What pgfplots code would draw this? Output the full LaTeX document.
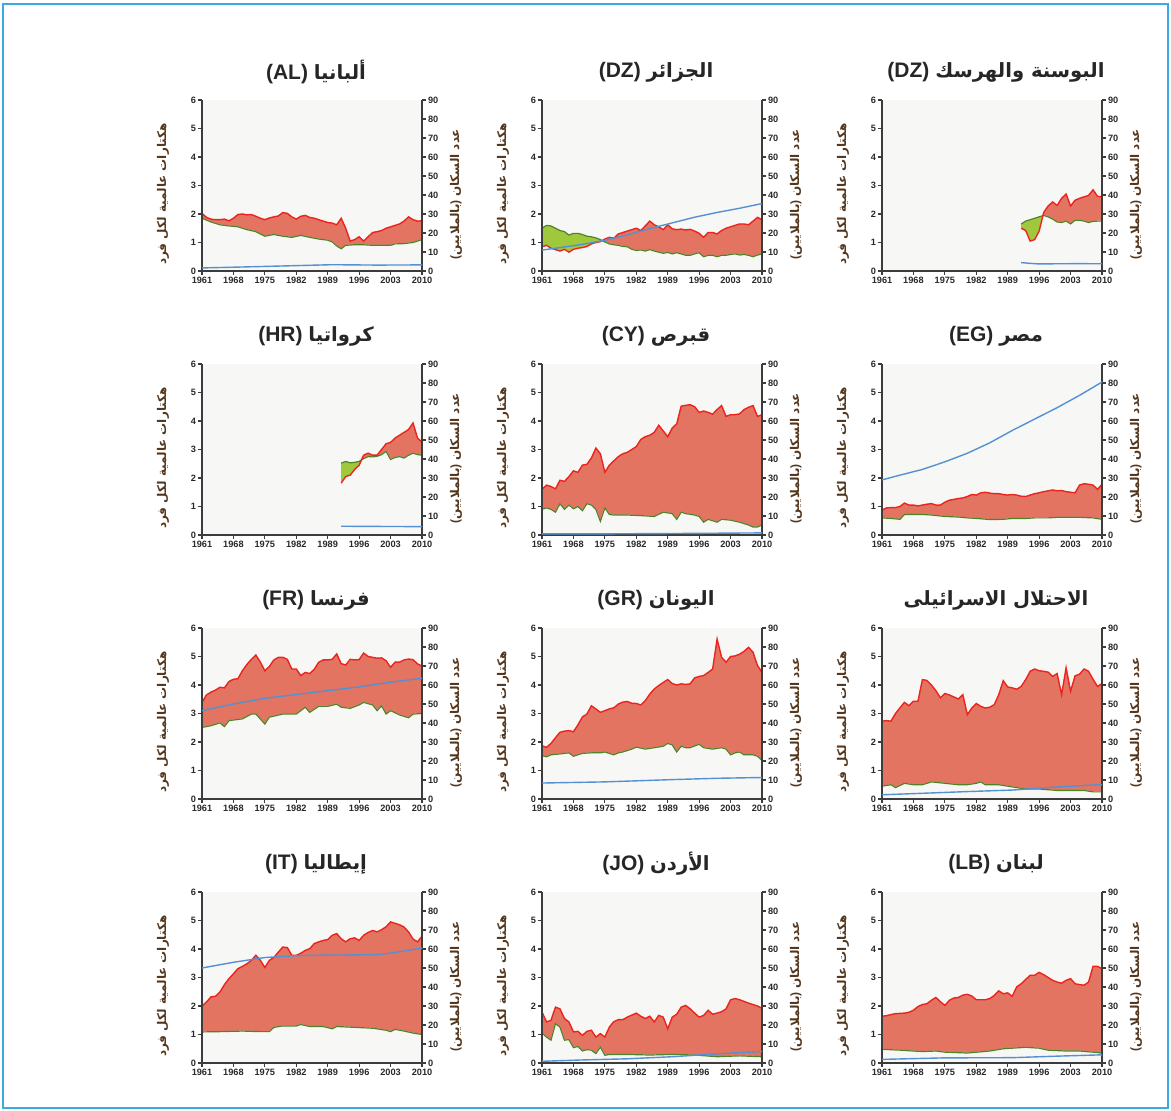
\documentclass[border=0pt]{standalone}
\usepackage{fontspec}
\setmainfont{Liberation Sans}
\newfontfamily\arabicfont[Script=Arabic]{DejaVu Sans}
\TeXXeTstate=1
\usepackage{pgfplots}
\pgfplotsset{compat=1.18}
\usepackage{pgfplotstable}

\definecolor{plotbg}{RGB}{247,247,245}
\definecolor{redfillc}{RGB}{226,116,97}
\definecolor{redlinec}{RGB}{236,36,30}
\definecolor{greenfillc}{RGB}{160,200,60}
\definecolor{greenlinec}{RGB}{80,130,40}
\definecolor{popc}{RGB}{85,145,210}
\definecolor{axiscol}{RGB}{60,60,60}
\definecolor{tickcol}{RGB}{40,40,40}
\definecolor{labcol}{RGB}{85,55,30}
\definecolor{framecol}{RGB}{60,170,225}

% ---------------- data ----------------
\pgfplotstableread[header=false]{
1961 2.02
1962 1.88
1963 1.82
1964 1.80
1965 1.80
1966 1.82
1967 1.76
1968 1.85
1969 1.98
1970 2.00
1971 1.97
1972 1.98
1973 1.92
1974 1.85
1975 1.80
1976 1.86
1977 1.90
1978 1.93
1979 2.05
1980 2.02
1981 1.90
1982 1.82
1983 1.92
1984 1.95
1985 1.88
1986 1.85
1987 1.80
1988 1.75
1989 1.70
1990 1.68
1991 1.62
1992 1.85
1993 1.50
1994 1.05
1995 1.10
1996 1.20
1997 1.05
1998 1.20
1999 1.35
2000 1.38
2001 1.42
2002 1.50
2003 1.55
2004 1.60
2005 1.65
2006 1.75
2007 1.90
2008 1.80
2009 1.75
2010 1.76
}\ALef
\pgfplotstableread[header=false]{
1961 1.85
1963 1.72
1965 1.62
1967 1.58
1969 1.55
1971 1.45
1973 1.38
1975 1.22
1977 1.28
1979 1.22
1981 1.18
1983 1.25
1985 1.18
1987 1.12
1989 1.08
1990 1.02
1991 0.88
1992 0.78
1993 0.90
1995 0.92
1997 0.92
1999 0.90
2001 0.90
2003 0.90
2004 0.95
2006 0.96
2008 1.00
2010 1.10
}\ALbc
\pgfplotstableread[header=false]{
1961 1.6
1970 2.1
1980 2.7
1990 3.3
2000 3.1
2010 3.2
}\ALpop

\pgfplotstableread[header=false]{
1961 0.85
1962 0.90
1963 0.80
1964 0.75
1965 0.70
1966 0.76
1967 0.66
1968 0.76
1969 0.80
1970 0.82
1971 0.86
1972 0.95
1973 1.00
1974 1.03
1974.41 1.067
1975 1.12
1976 1.18
1977 1.15
1978 1.30
1979 1.35
1980 1.40
1981 1.45
1982 1.50
1983 1.42
1984 1.58
1985 1.75
1986 1.62
1987 1.55
1988 1.45
1989 1.62
1990 1.48
1991 1.45
1992 1.47
1993 1.44
1994 1.46
1995 1.40
1996 1.32
1997 1.18
1998 1.35
1999 1.35
2000 1.30
2001 1.42
2002 1.50
2003 1.55
2004 1.60
2005 1.65
2006 1.65
2007 1.62
2008 1.75
2009 1.88
2010 1.80
}\DZef
\pgfplotstableread[header=false]{
1961 1.50
1962 1.60
1963 1.58
1964 1.50
1965 1.42
1966 1.38
1967 1.26
1968 1.32
1969 1.32
1970 1.28
1971 1.22
1972 1.20
1973 1.16
1974 1.10
1974.41 1.067
1975 1.02
1976 0.95
1977 0.92
1978 0.90
1979 0.86
1980 0.85
1981 0.76
1982 0.72
1983 0.74
1984 0.70
1985 0.75
1986 0.70
1987 0.66
1988 0.62
1989 0.65
1990 0.60
1991 0.64
1992 0.60
1993 0.55
1994 0.55
1995 0.60
1996 0.64
1997 0.50
1998 0.55
1999 0.55
2000 0.50
2001 0.55
2002 0.55
2003 0.58
2004 0.60
2005 0.56
2006 0.58
2007 0.55
2008 0.50
2009 0.56
2010 0.60
}\DZbc
\pgfplotstableread[header=false]{
1961 11.0
1965 12.3
1970 14.0
1975 16.2
1980 19.0
1985 22.3
1990 25.3
1995 28.3
2000 30.8
2005 33.0
2010 35.5
}\DZpop

\pgfplotstableread[header=false]{
1992 1.50
1993 1.42
1994 1.05
1995 1.10
1996 1.40
1996.83 1.94
1997 2.05
1998 2.28
1999 2.42
2000 2.30
2001 2.55
2002 2.70
2003 2.28
2004 2.48
2005 2.55
2006 2.60
2007 2.65
2008 2.85
2009 2.62
2010 2.60
}\BAef
\pgfplotstableread[header=false]{
1992 1.65
1993 1.75
1994 1.80
1995 1.85
1996 1.90
1996.83 1.94
1997 1.95
1998 1.90
1999 1.82
2000 1.72
2001 1.70
2002 1.75
2003 1.65
2004 1.78
2005 1.78
2006 1.75
2007 1.70
2008 1.74
2009 1.75
2010 1.75
}\BAbc
\pgfplotstableread[header=false]{
1992 4.4
1994 4.0
1996 3.7
2000 3.8
2005 3.85
2010 3.8
}\BApop

\pgfplotstableread[header=false]{
1992 1.82
1993 2.05
1994 2.10
1995 2.30
1996 2.45
1996.52 2.632
1997 2.80
1998 2.87
1999 2.80
2000 2.80
2001 3.00
2002 3.20
2003 3.25
2004 3.40
2005 3.50
2006 3.60
2007 3.70
2008 3.93
2009 3.40
2010 3.25
}\HRef
\pgfplotstableread[header=false]{
1992 2.52
1993 2.58
1994 2.53
1995 2.55
1996 2.58
1996.52 2.632
1997 2.68
1998 2.75
1999 2.74
2000 2.76
2001 2.82
2002 2.93
2003 2.65
2004 2.72
2005 2.75
2006 2.70
2007 2.80
2008 2.87
2009 2.82
2010 2.80
}\HRbc
\pgfplotstableread[header=false]{
1992 4.6
2000 4.5
2010 4.4
}\HRpop

\pgfplotstableread[header=false]{
1961 1.60
1962 1.75
1963 1.70
1964 1.62
1965 1.92
1966 1.88
1967 2.05
1968 2.25
1969 2.20
1970 2.45
1971 2.48
1972 2.70
1973 3.05
1974 2.85
1975 2.20
1976 2.45
1977 2.60
1978 2.75
1979 2.85
1980 2.90
1981 3.00
1982 3.10
1983 3.35
1984 3.45
1985 3.50
1986 3.60
1987 3.85
1988 3.65
1989 3.45
1990 3.75
1991 3.90
1992 4.52
1993 4.55
1994 4.57
1995 4.50
1996 4.30
1997 4.35
1998 4.30
1999 4.24
2000 4.40
2001 4.54
2002 4.16
2003 4.22
2004 4.22
2005 4.25
2006 4.40
2007 4.48
2008 4.54
2009 4.16
2010 4.22
}\CYef
\pgfplotstableread[header=false]{
1961 0.90
1962 0.95
1963 0.90
1964 0.80
1965 1.10
1966 0.90
1967 1.05
1968 0.92
1969 1.00
1970 0.85
1971 1.10
1972 1.05
1973 0.90
1974 0.48
1975 0.95
1976 0.72
1977 0.70
1980 0.70
1983 0.68
1986 0.65
1988 0.80
1990 0.75
1991 0.55
1992 0.80
1993 0.75
1995 0.70
1996 0.65
1997 0.45
1998 0.55
1999 0.50
2000 0.45
2001 0.55
2003 0.52
2005 0.45
2007 0.35
2008 0.28
2009 0.28
2010 0.35
}\CYbc
\pgfplotstableread[header=false]{
1961 0.57
1975 0.60
1990 0.77
2010 1.10
}\CYpop

\pgfplotstableread[header=false]{
1961 0.88
1962 0.95
1963 0.96
1964 0.96
1965 1.00
1966 1.12
1967 1.05
1968 1.05
1969 1.02
1970 1.05
1971 1.08
1972 1.10
1973 1.05
1974 1.05
1975 1.15
1976 1.22
1977 1.25
1978 1.28
1979 1.30
1980 1.35
1981 1.42
1982 1.40
1983 1.48
1984 1.50
1985 1.47
1986 1.45
1987 1.45
1988 1.42
1989 1.40
1990 1.42
1991 1.40
1992 1.36
1993 1.35
1994 1.40
1995 1.45
1996 1.48
1997 1.52
1998 1.55
1999 1.58
2000 1.55
2001 1.56
2002 1.52
2003 1.50
2004 1.48
2005 1.75
2006 1.80
2007 1.78
2008 1.75
2009 1.60
2010 1.78
}\EGef
\pgfplotstableread[header=false]{
1961 0.60
1963 0.58
1965 0.55
1966 0.72
1968 0.72
1970 0.72
1972 0.70
1975 0.65
1978 0.63
1980 0.60
1983 0.57
1985 0.54
1988 0.55
1990 0.58
1993 0.58
1995 0.60
1998 0.60
2000 0.62
2003 0.62
2005 0.62
2008 0.60
2010 0.55
}\EGbc
\pgfplotstableread[header=false]{
1961 29.0
1965 31.5
1970 34.5
1975 38.5
1980 43.0
1985 48.5
1990 55.0
1995 61.0
2000 67.0
2005 73.5
2010 80.5
}\EGpop

\pgfplotstableread[header=false]{
1961 3.39
1962 3.65
1963 3.75
1964 3.82
1965 3.92
1966 3.90
1967 4.12
1968 4.20
1969 4.22
1970 4.50
1971 4.72
1972 4.90
1973 5.05
1974 4.80
1975 4.50
1976 4.65
1977 4.88
1978 4.97
1979 4.97
1980 4.90
1981 4.56
1982 4.56
1983 4.33
1984 4.44
1985 4.40
1986 4.55
1987 4.80
1988 4.88
1989 4.88
1990 4.90
1991 5.09
1992 4.75
1993 4.70
1994 4.90
1995 4.88
1996 4.89
1997 5.12
1998 5.00
1999 4.97
2000 4.94
2001 4.95
2002 4.85
2003 4.62
2004 4.80
2005 4.80
2006 4.88
2007 4.91
2008 4.89
2009 4.74
2010 4.66
}\FRef
\pgfplotstableread[header=false]{
1961 2.51
1963 2.57
1965 2.67
1966 2.54
1967 2.75
1970 2.81
1972 2.98
1973 2.98
1975 2.63
1976 2.87
1979 2.98
1982 2.98
1983 3.10
1984 3.22
1985 3.04
1987 3.25
1989 3.25
1991 3.33
1992 3.22
1994 3.18
1996 3.30
1997 3.39
1999 3.30
2000 3.10
2001 3.27
2002 2.98
2003 3.10
2005 2.95
2006 2.90
2007 2.85
2008 2.98
2010 3.00
}\FRbc
\pgfplotstableread[header=false]{
1961 46.5
1968 50.0
1975 53.0
1982 55.0
1989 57.0
1996 59.0
2003 61.5
2010 63.5
}\FRpop

\pgfplotstableread[header=false]{
1961 1.87
1962 1.81
1963 1.95
1964 2.15
1965 2.34
1966 2.38
1967 2.40
1968 2.36
1969 2.60
1970 2.88
1971 2.98
1972 3.27
1973 3.16
1974 3.04
1975 3.10
1976 3.16
1977 3.20
1978 3.33
1979 3.40
1980 3.42
1981 3.36
1982 3.35
1983 3.30
1984 3.45
1985 3.68
1986 3.86
1987 3.98
1988 4.09
1989 4.19
1990 4.05
1991 4.00
1992 4.04
1993 4.02
1994 4.04
1995 4.25
1996 4.30
1997 4.33
1998 4.44
1999 4.56
2000 5.61
2001 4.97
2002 4.80
2003 5.00
2004 5.02
2005 5.08
2006 5.18
2007 5.32
2008 5.15
2009 4.68
2010 4.44
}\GRef
\pgfplotstableread[header=false]{
1961 1.52
1962 1.48
1963 1.55
1965 1.58
1967 1.62
1968 1.50
1970 1.60
1972 1.62
1974 1.62
1975 1.65
1977 1.55
1978 1.62
1979 1.65
1981 1.75
1982 1.82
1984 1.75
1986 1.80
1988 1.85
1989 1.95
1990 1.90
1991 1.65
1992 1.85
1993 1.80
1994 1.80
1996 1.92
1997 1.80
1999 1.75
2001 1.80
2002 1.75
2003 1.55
2004 1.62
2005 1.65
2006 1.55
2008 1.55
2009 1.50
2010 1.35
}\GRbc
\pgfplotstableread[header=false]{
1961 8.4
1975 9.0
1990 10.2
2000 10.9
2010 11.3
}\GRpop

\pgfplotstableread[header=false]{
1961 2.73
1962 2.75
1963 2.73
1964 3.00
1965 3.20
1966 3.39
1967 3.27
1968 3.43
1969 3.43
1970 4.19
1971 4.16
1972 4.00
1973 3.80
1974 3.55
1975 3.70
1976 3.65
1977 3.58
1978 3.51
1979 3.66
1980 2.96
1981 3.19
1982 3.35
1983 3.25
1984 3.19
1985 3.22
1986 3.31
1987 3.66
1988 4.15
1989 3.93
1990 3.90
1991 3.85
1992 3.95
1993 4.19
1994 4.48
1995 4.56
1996 4.50
1997 4.48
1998 4.45
1999 4.30
2000 4.40
2001 3.66
2002 4.60
2003 3.78
2004 4.32
2005 4.38
2006 4.56
2007 4.48
2008 4.20
2009 3.95
2010 4.05
}\ILef
\pgfplotstableread[header=false]{
1961 0.45
1963 0.50
1964 0.40
1966 0.55
1968 0.50
1970 0.50
1972 0.60
1975 0.55
1978 0.50
1980 0.50
1982 0.55
1983 0.60
1984 0.50
1987 0.50
1989 0.45
1991 0.40
1993 0.35
1996 0.35
2000 0.30
2003 0.30
2006 0.30
2008 0.25
2010 0.25
}\ILbc
\pgfplotstableread[header=false]{
1961 2.2
1970 3.0
1980 3.9
1990 4.7
2000 6.3
2010 7.6
}\ILpop

\pgfplotstableread[header=false]{
1961 2.00
1962 2.14
1963 2.32
1964 2.34
1965 2.49
1966 2.75
1967 2.96
1968 3.13
1969 3.31
1970 3.39
1971 3.48
1972 3.60
1973 3.78
1974 3.60
1975 3.35
1976 3.60
1977 3.70
1978 3.89
1979 4.07
1980 4.05
1981 3.78
1982 3.78
1983 3.85
1984 3.95
1985 4.01
1986 4.19
1987 4.25
1988 4.30
1989 4.33
1990 4.48
1991 4.54
1992 4.36
1993 4.25
1994 4.36
1995 4.39
1996 4.30
1997 4.48
1998 4.58
1999 4.65
2000 4.60
2001 4.68
2002 4.78
2003 4.95
2004 4.90
2005 4.85
2006 4.77
2007 4.60
2008 4.35
2009 4.25
2010 4.45
}\ITef
\pgfplotstableread[header=false]{
1961 1.09
1965 1.10
1970 1.12
1974 1.10
1976 1.10
1977 1.25
1979 1.30
1982 1.30
1983 1.35
1985 1.28
1988 1.28
1990 1.20
1991 1.28
1995 1.25
1999 1.22
2002 1.15
2003 1.10
2004 1.18
2006 1.12
2008 1.05
2010 1.00
}\ITbc
\pgfplotstableread[header=false]{
1961 50.0
1968 53.0
1975 55.5
1982 56.5
1989 56.8
1996 56.9
2000 57.1
2003 57.8
2007 59.3
2010 60.5
}\ITpop

\pgfplotstableread[header=false]{
1961 1.79
1962 1.44
1963 1.50
1964 1.96
1965 1.90
1966 1.56
1967 1.44
1968 1.09
1969 1.11
1970 0.97
1971 1.11
1972 1.15
1973 0.91
1974 1.03
1975 0.91
1976 1.26
1977 1.45
1978 1.52
1979 1.52
1980 1.61
1981 1.68
1982 1.75
1983 1.64
1984 1.56
1985 1.64
1986 1.44
1987 1.67
1988 1.61
1989 1.20
1990 1.61
1991 1.71
1992 1.96
1993 2.02
1994 1.90
1995 1.75
1996 1.61
1997 1.67
1998 1.85
1999 1.71
2000 1.75
2001 1.80
2002 1.90
2003 2.22
2004 2.26
2005 2.22
2006 2.16
2007 2.10
2008 2.05
2009 2.00
2010 1.92
}\JOef
\pgfplotstableread[header=false]{
1961 1.05
1962 0.91
1963 0.80
1964 1.38
1965 1.26
1966 0.80
1967 0.82
1968 0.54
1969 0.58
1970 0.42
1971 0.47
1972 0.45
1973 0.33
1974 0.56
1975 0.27
1976 0.30
1978 0.30
1980 0.30
1985 0.28
1990 0.30
1995 0.28
2000 0.22
2005 0.25
2010 0.22
}\JObc
\pgfplotstableread[header=false]{
1961 0.9
1970 1.6
1980 2.2
1990 3.3
2000 4.8
2010 6.1
}\JOpop

\pgfplotstableread[header=false]{
1961 1.64
1962 1.66
1963 1.70
1964 1.73
1965 1.74
1966 1.75
1967 1.78
1968 1.85
1969 1.98
1970 2.05
1971 2.08
1972 2.20
1973 2.30
1974 2.15
1975 2.02
1976 2.20
1977 2.28
1978 2.30
1979 2.38
1980 2.41
1981 2.35
1982 2.22
1983 2.22
1984 2.22
1985 2.26
1986 2.37
1987 2.53
1988 2.43
1989 2.46
1990 2.34
1991 2.67
1992 2.78
1993 2.93
1994 3.08
1995 3.08
1996 3.18
1997 3.10
1998 3.00
1999 2.90
2000 2.84
2001 2.80
2002 2.90
2003 2.96
2004 2.78
2005 2.75
2006 2.73
2007 2.84
2008 3.39
2009 3.39
2010 3.31
}\LBef
\pgfplotstableread[header=false]{
1961 0.48
1965 0.45
1968 0.42
1970 0.40
1973 0.42
1975 0.38
1980 0.35
1985 0.42
1988 0.50
1990 0.52
1993 0.55
1996 0.52
1998 0.45
2002 0.42
2005 0.42
2008 0.38
2010 0.35
}\LBbc
\pgfplotstableread[header=false]{
1961 1.9
1975 2.7
1990 2.8
2000 3.6
2010 4.3
}\LBpop

% ---------------- styles ----------------
\newcommand\tickfont{\fontsize{4.6}{5}\selectfont\bfseries}
\pgfplotsset{
  mybase/.style={
    width=110pt, height=85.5pt, scale only axis,
    anchor=south west,
    xmin=1961, xmax=2010,
    no markers,
    axis line style={axiscol, line width=0.8pt},
    tick align=outside, major tick length=2pt,
    tick style={axiscol, line width=0.6pt},
    tick label style={font=\tickfont, text=tickcol},
    /pgf/number format/assume math mode=true,
  },
  myleft/.style={mybase,
    ymin=0, ymax=6,
    axis on top,
    axis y line*=left, axis x line*=bottom,
    xtick={1961,1968,1975,1982,1989,1996,2003,2010},
    ytick={0,1,2,3,4,5,6},
    x tick label style={/pgf/number format/1000 sep={}, inner sep=0.8pt},
    y tick label style={inner sep=0.8pt},
    axis background/.style={fill=plotbg},
  },
  myright/.style={mybase,
    ymin=0, ymax=90,
    axis y line*=right, axis x line=none,
    ytick={0,10,20,30,40,50,60,70,80,90},
    y tick label style={inner sep=0.8pt},
  },
  efline/.style={redlinec, line width=0.7pt},
  bcline/.style={greenlinec, line width=0.6pt},
  popline/.style={popc, line width=0.7pt},
  redarea/.style={fill=redfillc, draw=none},
  greenarea/.style={fill=greenfillc, draw=none},
  bgarea/.style={fill=plotbg, draw=plotbg, line width=0.4pt},
}
\tikzset{
  ttl/.style={font=\fontsize{10.5}{12}\selectfont\bfseries, text=black!85, inner sep=0pt},
  lab/.style={font=\fontsize{6}{7}\selectfont\bfseries, text=labcol, inner sep=0pt, rotate=90},
}
\newcommand\ar[1]{{\arabicfont\bfseries\fontsize{9.8}{11}\selectfont\beginR #1\endR}}
\newcommand\leftlab{{\arabicfont\bfseries\beginR هكتارات عالمية لكل فرد\endR}}
\newcommand\rightlab{\mbox{(}{\arabicfont\bfseries بالملايين}\mbox{)} {\arabicfont\bfseries\beginR عدد السكان\endR}}

\begin{document}
\begin{tikzpicture}
\path[use as bounding box] (0pt,0pt) rectangle (585.5pt,555.5pt);
\draw[framecol, line width=0.8pt] (1.5pt,1.5pt) rectangle (584pt,553.5pt);

% ===== AL =====
\begin{axis}[myleft, at={(101pt,420pt)}]
\addplot[redarea] table {\ALef} \closedcycle;
\addplot[bgarea] table {\ALbc} \closedcycle;
\addplot[bcline] table {\ALbc};
\addplot[efline] table {\ALef};
\end{axis}
\begin{axis}[myright, at={(101pt,420pt)}]
\addplot[popline] table {\ALpop};
\end{axis}
\node[ttl] at (158pt,519.5pt) {(AL)\ \ar{ألبانيا}};
\node[lab] at (81.5pt,458.5pt) {\leftlab};
\node[lab] at (228pt,458.5pt) {\rightlab};

% ===== DZ =====
\begin{axis}[myleft, at={(271pt,420pt)}]
\addplot[redarea] table {\DZef} \closedcycle;
\addplot[greenarea, restrict x to domain=1961:1974.41] table {\DZbc} \closedcycle;
\addplot[bgarea, restrict x to domain=1961:1974.41] table {\DZef} \closedcycle;
\addplot[bgarea, restrict x to domain=1974.41:2010] table {\DZbc} \closedcycle;
\addplot[bcline] table {\DZbc};
\addplot[efline] table {\DZef};
\end{axis}
\begin{axis}[myright, at={(271pt,420pt)}]
\addplot[popline] table {\DZpop};
\end{axis}
\node[ttl] at (328pt,519.5pt) {(DZ)\ \ar{الجزائر}};
\node[lab] at (251.5pt,458.5pt) {\leftlab};
\node[lab] at (398pt,458.5pt) {\rightlab};

% ===== BA =====
\begin{axis}[myleft, at={(441pt,420pt)}]
\addplot[redarea] table {\BAef} \closedcycle;
\addplot[greenarea, restrict x to domain=1992:1996.83] table {\BAbc} \closedcycle;
\addplot[bgarea, restrict x to domain=1992:1996.83] table {\BAef} \closedcycle;
\addplot[bgarea, restrict x to domain=1996.83:2010] table {\BAbc} \closedcycle;
\addplot[bcline] table {\BAbc};
\addplot[efline] table {\BAef};
\end{axis}
\begin{axis}[myright, at={(441pt,420pt)}]
\addplot[popline] table {\BApop};
\end{axis}
\node[ttl] at (498pt,519.5pt) {(DZ)\ \ar{البوسنة والهرسك}};
\node[lab] at (421.5pt,458.5pt) {\leftlab};
\node[lab] at (568pt,458.5pt) {\rightlab};

% ===== HR =====
\begin{axis}[myleft, at={(101pt,288pt)}]
\addplot[redarea] table {\HRef} \closedcycle;
\addplot[greenarea, restrict x to domain=1992:1996.52] table {\HRbc} \closedcycle;
\addplot[bgarea, restrict x to domain=1992:1996.52] table {\HRef} \closedcycle;
\addplot[bgarea, restrict x to domain=1996.52:2010] table {\HRbc} \closedcycle;
\addplot[bcline] table {\HRbc};
\addplot[efline] table {\HRef};
\end{axis}
\begin{axis}[myright, at={(101pt,288pt)}]
\addplot[popline] table {\HRpop};
\end{axis}
\node[ttl] at (158pt,387.5pt) {(HR)\ \ar{كرواتيا}};
\node[lab] at (81.5pt,326.5pt) {\leftlab};
\node[lab] at (228pt,326.5pt) {\rightlab};

% ===== CY =====
\begin{axis}[myleft, at={(271pt,288pt)}]
\addplot[redarea] table {\CYef} \closedcycle;
\addplot[bgarea] table {\CYbc} \closedcycle;
\addplot[bcline] table {\CYbc};
\addplot[efline] table {\CYef};
\end{axis}
\begin{axis}[myright, at={(271pt,288pt)}]
\addplot[popline] table {\CYpop};
\end{axis}
\node[ttl] at (328pt,387.5pt) {(CY)\ \ar{قبرص}};
\node[lab] at (251.5pt,326.5pt) {\leftlab};
\node[lab] at (398pt,326.5pt) {\rightlab};

% ===== EG =====
\begin{axis}[myleft, at={(441pt,288pt)}]
\addplot[redarea] table {\EGef} \closedcycle;
\addplot[bgarea] table {\EGbc} \closedcycle;
\addplot[bcline] table {\EGbc};
\addplot[efline] table {\EGef};
\end{axis}
\begin{axis}[myright, at={(441pt,288pt)}]
\addplot[popline] table {\EGpop};
\end{axis}
\node[ttl] at (498pt,387.5pt) {(EG)\ \ar{مصر}};
\node[lab] at (421.5pt,326.5pt) {\leftlab};
\node[lab] at (568pt,326.5pt) {\rightlab};

% ===== FR =====
\begin{axis}[myleft, at={(101pt,156pt)}]
\addplot[redarea] table {\FRef} \closedcycle;
\addplot[bgarea] table {\FRbc} \closedcycle;
\addplot[bcline] table {\FRbc};
\addplot[efline] table {\FRef};
\end{axis}
\begin{axis}[myright, at={(101pt,156pt)}]
\addplot[popline] table {\FRpop};
\end{axis}
\node[ttl] at (158pt,255.5pt) {(FR)\ \ar{فرنسا}};
\node[lab] at (81.5pt,194.5pt) {\leftlab};
\node[lab] at (228pt,194.5pt) {\rightlab};

% ===== GR =====
\begin{axis}[myleft, at={(271pt,156pt)}]
\addplot[redarea] table {\GRef} \closedcycle;
\addplot[bgarea] table {\GRbc} \closedcycle;
\addplot[bcline] table {\GRbc};
\addplot[efline] table {\GRef};
\end{axis}
\begin{axis}[myright, at={(271pt,156pt)}]
\addplot[popline] table {\GRpop};
\end{axis}
\node[ttl] at (328pt,255.5pt) {(GR)\ \ar{اليونان}};
\node[lab] at (251.5pt,194.5pt) {\leftlab};
\node[lab] at (398pt,194.5pt) {\rightlab};

% ===== IL =====
\begin{axis}[myleft, at={(441pt,156pt)}]
\addplot[redarea] table {\ILef} \closedcycle;
\addplot[bgarea] table {\ILbc} \closedcycle;
\addplot[bcline] table {\ILbc};
\addplot[efline] table {\ILef};
\end{axis}
\begin{axis}[myright, at={(441pt,156pt)}]
\addplot[popline] table {\ILpop};
\end{axis}
\node[ttl] at (498pt,255.5pt) {\ar{الاحتلال الاسرائيلى}};
\node[lab] at (421.5pt,194.5pt) {\leftlab};
\node[lab] at (568pt,194.5pt) {\rightlab};

% ===== IT =====
\begin{axis}[myleft, at={(101pt,24pt)}]
\addplot[redarea] table {\ITef} \closedcycle;
\addplot[bgarea] table {\ITbc} \closedcycle;
\addplot[bcline] table {\ITbc};
\addplot[efline] table {\ITef};
\end{axis}
\begin{axis}[myright, at={(101pt,24pt)}]
\addplot[popline] table {\ITpop};
\end{axis}
\node[ttl] at (158pt,123.5pt) {(IT)\ \ar{إيطاليا}};
\node[lab] at (81.5pt,62.5pt) {\leftlab};
\node[lab] at (228pt,62.5pt) {\rightlab};

% ===== JO =====
\begin{axis}[myleft, at={(271pt,24pt)}]
\addplot[redarea] table {\JOef} \closedcycle;
\addplot[bgarea] table {\JObc} \closedcycle;
\addplot[bcline] table {\JObc};
\addplot[efline] table {\JOef};
\end{axis}
\begin{axis}[myright, at={(271pt,24pt)}]
\addplot[popline] table {\JOpop};
\end{axis}
\node[ttl] at (328pt,123.5pt) {(JO)\ \ar{الأردن}};
\node[lab] at (251.5pt,62.5pt) {\leftlab};
\node[lab] at (398pt,62.5pt) {\rightlab};

% ===== LB =====
\begin{axis}[myleft, at={(441pt,24pt)}]
\addplot[redarea] table {\LBef} \closedcycle;
\addplot[bgarea] table {\LBbc} \closedcycle;
\addplot[bcline] table {\LBbc};
\addplot[efline] table {\LBef};
\end{axis}
\begin{axis}[myright, at={(441pt,24pt)}]
\addplot[popline] table {\LBpop};
\end{axis}
\node[ttl] at (498pt,123.5pt) {(LB)\ \ar{لبنان}};
\node[lab] at (421.5pt,62.5pt) {\leftlab};
\node[lab] at (568pt,62.5pt) {\rightlab};
\end{tikzpicture}
\end{document}
